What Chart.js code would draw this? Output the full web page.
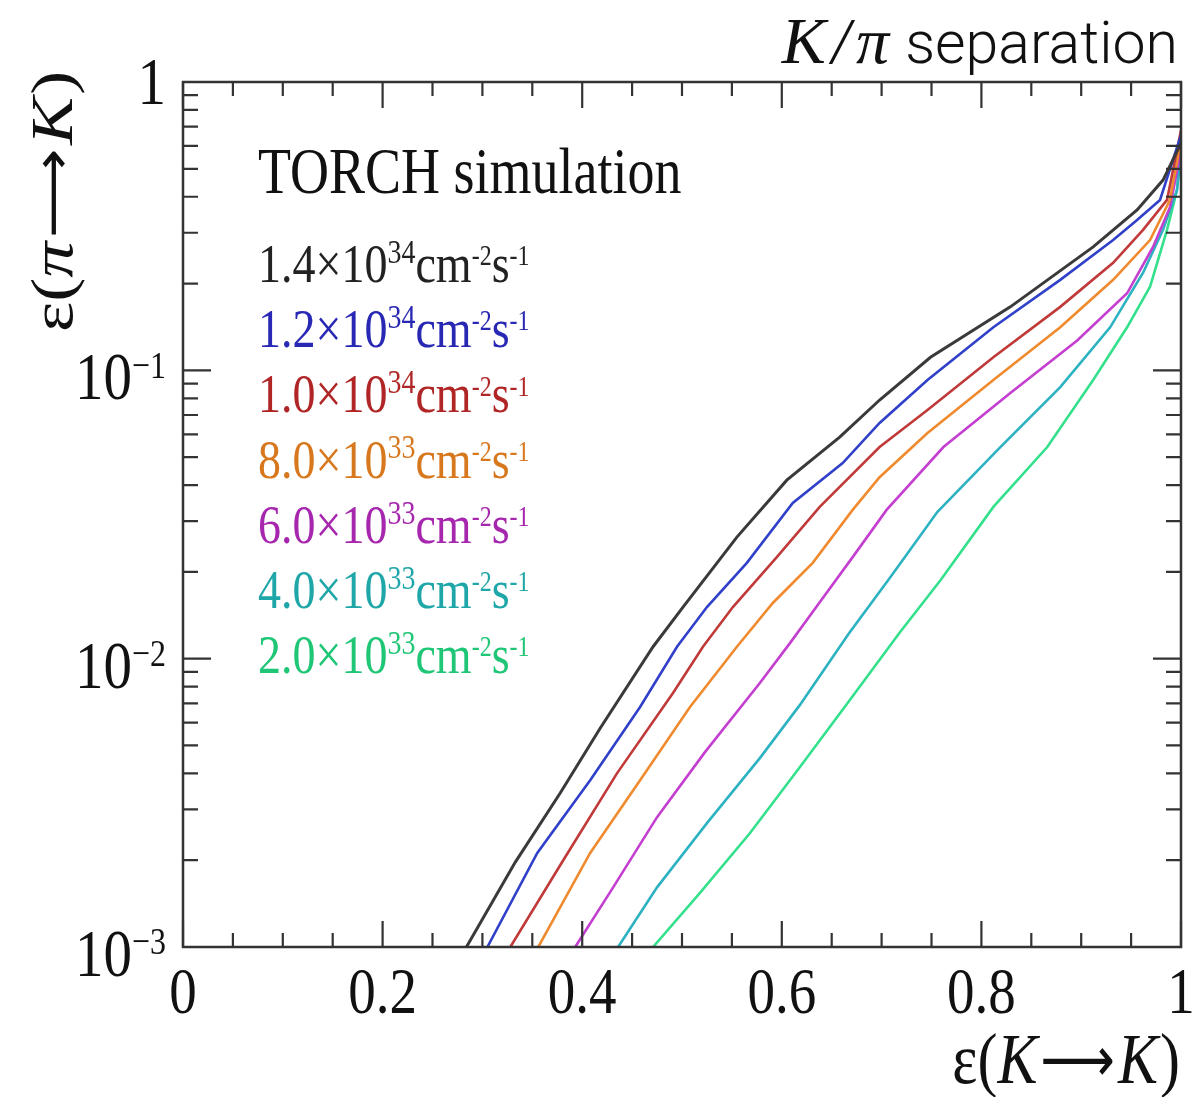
<!DOCTYPE html>
<html>
<head>
<meta charset="utf-8">
<script src="https://cdn.jsdelivr.net/npm/chart.js@4.4.1/dist/chart.umd.min.js"></script>
<style>
    html, body { margin: 0; padding: 0; background: #fff; }
    canvas { display: block; }
</style>
</head>
<body>
<canvas id="rocChart" width="1195" height="1097"></canvas>
<script>
// Kaon efficiency (x) vs pion mis-ID (y), one pair per luminosity
const kEff14 = [0.284, 0.333, 0.378, 0.418, 0.471, 0.501, 0.555, 0.605, 0.658, 0.698, 0.749, 0.829, 0.912, 0.956, 0.982, 1.0];
const piMis14 = [0.001, 0.00197, 0.00342, 0.00574, 0.0110, 0.0151, 0.0264, 0.0416, 0.0587, 0.0789, 0.111, 0.166, 0.268, 0.360, 0.457, 0.614];

const kEff12 = [0.305, 0.355, 0.408, 0.458, 0.495, 0.525, 0.565, 0.611, 0.661, 0.698, 0.746, 0.812, 0.879, 0.932, 0.956, 0.979, 1.0];
const piMis12 = [0.001, 0.00212, 0.00379, 0.0068, 0.0110, 0.0151, 0.0215, 0.0347, 0.0477, 0.0657, 0.0926, 0.141, 0.206, 0.283, 0.332, 0.390, 0.655];

const kEff10 = [0.328, 0.381, 0.435, 0.491, 0.521, 0.551, 0.595, 0.638, 0.698, 0.746, 0.812, 0.879, 0.932, 0.962, 0.986, 1.0];
const piMis10 = [0.001, 0.0020, 0.00401, 0.0076, 0.0110, 0.0151, 0.0225, 0.0336, 0.0542, 0.0728, 0.111, 0.166, 0.236, 0.307, 0.390, 0.68];

const kEff8 = [0.356, 0.408, 0.458, 0.508, 0.555, 0.591, 0.631, 0.671, 0.698, 0.746, 0.812, 0.879, 0.932, 0.969, 0.989, 1.0];
const piMis8 = [0.001, 0.00212, 0.00379, 0.0068, 0.0110, 0.0156, 0.0215, 0.0328, 0.0426, 0.0606, 0.0926, 0.141, 0.206, 0.283, 0.390, 0.63];

const kEff6 = [0.393, 0.431, 0.475, 0.523, 0.578, 0.608, 0.638, 0.671, 0.705, 0.762, 0.829, 0.896, 0.946, 0.972, 0.989, 1.0];
const piMis6 = [0.001, 0.00161, 0.00282, 0.00474, 0.00823, 0.0113, 0.0157, 0.0225, 0.0328, 0.0542, 0.0834, 0.127, 0.185, 0.268, 0.368, 0.58];

const kEff4 = [0.436, 0.475, 0.525, 0.578, 0.618, 0.667, 0.708, 0.756, 0.819, 0.879, 0.929, 0.962, 0.982, 0.996, 1.0];
const piMis4 = [0.001, 0.00161, 0.00269, 0.00452, 0.0069, 0.0122, 0.0190, 0.0323, 0.0542, 0.0875, 0.141, 0.218, 0.307, 0.422, 0.58];

const kEff2 = [0.471, 0.518, 0.568, 0.618, 0.668, 0.718, 0.759, 0.812, 0.866, 0.912, 0.946, 0.969, 0.986, 0.996, 1.0];
const piMis2 = [0.001, 0.00154, 0.00248, 0.0042, 0.00718, 0.0123, 0.0187, 0.0336, 0.0542, 0.0926, 0.141, 0.195, 0.307, 0.422, 0.63];

// legend mantissa / exponent for each luminosity
const lumiMantissa = ['1.4', '1.2', '1.0', '8.0', '6.0', '4.0', '2.0'];
const lumiExponent = ['34', '34', '34', '33', '33', '33', '33'];

const xMajorTicks = [0, 0.2, 0.4, 0.6, 0.8, 1];
const xTickLabels = ['0', '0.2', '0.4', '0.6', '0.8', '1'];
const yDecades = [1, 0.1, 0.01, 0.001];
const yTickExp = ['', '\u22121', '\u22122', '\u22123'];

const lineColors = ['#3a3a3a', '#3140c8', '#c03a3a', '#f08a2e', '#c43ed0', '#2cb2c0', '#34e08c'];
const textColors = ['#222222', '#2828b4', '#b02626', '#d8781e', '#a626ae', '#1fa6a8', '#1fc676'];

const SERIF = '"Liberation Serif", "Times New Roman", serif';
const ARROW_FONT = '"DejaVu Sans", sans-serif';
const STRETCH = 1.2;  // the original figure is squashed horizontally

const series = [
    [kEff14, piMis14], [kEff12, piMis12], [kEff10, piMis10], [kEff8, piMis8],
    [kEff6, piMis6], [kEff4, piMis4], [kEff2, piMis2]
];

const datasets = series.map(([xs, ys], i) => ({
    label: lumiMantissa[i] + 'e' + lumiExponent[i],
    data: xs.map((x, j) => ({ x: x, y: ys[j] })),
    borderColor: lineColors[i],
    borderWidth: i === 0 ? 3 : 2.6,
    pointRadius: 0,
    tension: 0,
    fill: false
}));

function fontOf(s) {
    return (s.italic ? 'italic ' : '') + (s.weight || 'normal') + ' ' + s.size + 'px ' + (s.family || SERIF);
}

function richWidth(ctx, segs) {
    let w = 0;
    segs.forEach(s => {
        ctx.font = fontOf(s);
        w += ctx.measureText(s.text).width + (s.gap || 0);
    });
    return w;
}

// draws a row of text segments (super-scripts etc.) at baseline y
function drawRich(ctx, segs, x, y, align, color, opts) {
    opts = opts || {};
    const stretch = opts.stretch === undefined ? STRETCH : opts.stretch;
    ctx.save();
    ctx.translate(x, y);
    ctx.scale(1, stretch);
    if (opts.rotate) ctx.rotate(-Math.PI / 2);
    const w = richWidth(ctx, segs);
    let cx = align === 'right' ? -w : (align === 'center' ? -w / 2 : 0);
    ctx.fillStyle = color;
    ctx.textBaseline = 'alphabetic';
    ctx.textAlign = 'left';
    segs.forEach(s => {
        ctx.font = fontOf(s);
        ctx.fillText(s.text, cx, s.dy || 0);
        cx += ctx.measureText(s.text).width + (s.gap || 0);
    });
    ctx.restore();
}

function effTitle(inner) {
    return [
        { text: '\u03b5', size: 60 }, { text: '(', size: 60 },
        { text: inner, size: 60, italic: true, gap: 3 },
        { text: '\u27f6', size: 52, family: ARROW_FONT, dy: -2, gap: 3 },
        { text: 'K', size: 60, italic: true, gap: 2 }, { text: ')', size: 60 }
    ];
}

const frameAndText = {
    id: 'frameAndText',
    afterDatasetsDraw(chart) {
        const ctx = chart.ctx;
        const xs = chart.scales.x;
        const ys = chart.scales.y;
        const area = chart.chartArea;

        ctx.save();
        ctx.strokeStyle = '#333';
        ctx.lineWidth = 2.5;
        ctx.strokeRect(area.left, area.top, area.right - area.left, area.bottom - area.top);

        // x ticks, bottom and top, pointing inwards
        ctx.lineWidth = 2.2;
        for (let k = 0; k <= 20; k++) {
            const v = k * 0.05;
            const px = xs.getPixelForValue(v);
            const len = k % 4 === 0 ? 26 : 14;
            ctx.beginPath();
            ctx.moveTo(px, area.bottom); ctx.lineTo(px, area.bottom - len);
            ctx.moveTo(px, area.top); ctx.lineTo(px, area.top + len);
            ctx.stroke();
        }

        // y log ticks, left and right
        [0.001, 0.01, 0.1].forEach(dec => {
            for (let m = 1; m <= 9; m++) {
                const py = ys.getPixelForValue(m * dec);
                const len = m === 1 ? 28 : 15;
                ctx.beginPath();
                ctx.moveTo(area.left, py); ctx.lineTo(area.left + len, py);
                ctx.moveTo(area.right, py); ctx.lineTo(area.right - len, py);
                ctx.stroke();
            }
        });
        ctx.restore();

        // x tick labels
        xMajorTicks.forEach((v, i) => {
            drawRich(ctx, [{ text: xTickLabels[i], size: 55 }],
                xs.getPixelForValue(v), area.bottom + 66, 'center', '#111');
        });

        // y tick labels
        yDecades.forEach((v, i) => {
            const py = ys.getPixelForValue(v);
            const segs = i === 0
                ? [{ text: '1', size: 57 }]
                : [{ text: '10', size: 57 }, { text: yTickExp[i], size: 32, dy: -18 }];
            drawRich(ctx, segs, area.left - 17, py + (i === 0 ? 22 : 29), 'right', '#111');
        });

        // axis titles
        drawRich(ctx, effTitle('K'), area.right - 1, 1083, 'right', '#111');
        drawRich(ctx, effTitle('\u03c0'), 72, 332, 'left', '#111', { rotate: true });

        // in-plot legend
        drawRich(ctx, [{ text: 'TORCH simulation', size: 54 }], 258, 193, 'left', '#111');
        lumiMantissa.forEach((m, i) => {
            drawRich(ctx, [
                { text: m + '\u00d710', size: 46 },
                { text: lumiExponent[i], size: 28, dy: -16 },
                { text: 'cm', size: 46 },
                { text: '-2', size: 24, dy: -14 },
                { text: 's', size: 46 },
                { text: '-1', size: 24, dy: -14 }
            ], 258, 282 + i * 65.2, 'left', textColors[i]);
        });

        // top-right heading
        drawRich(ctx, [
            { text: 'K', size: 66, italic: true, gap: 6 },
            { text: '/', size: 66, italic: true, gap: 6 },
            { text: '\u03c0', size: 66, italic: true, gap: 16 },
            { text: 'separation', size: 59, weight: '300', family: 'Roboto, "Open Sans", sans-serif' }
        ], 1178, 63, 'right', '#111', { stretch: 1 });
    }
};

const chart = new Chart(document.getElementById('rocChart').getContext('2d'), {
    type: 'line',
    data: { datasets: datasets },
    options: {
        responsive: false,
        animation: false,
        layout: { padding: { left: 183, top: 82, right: 14, bottom: 150 } },
        plugins: {
            legend: { display: false },
            tooltip: { enabled: false }
        },
        scales: {
            x: { type: 'linear', min: 0, max: 1, display: false },
            y: { type: 'logarithmic', min: 0.001, max: 1, display: false }
        }
    },
    plugins: [frameAndText]
});
</script>
</body>
</html>
